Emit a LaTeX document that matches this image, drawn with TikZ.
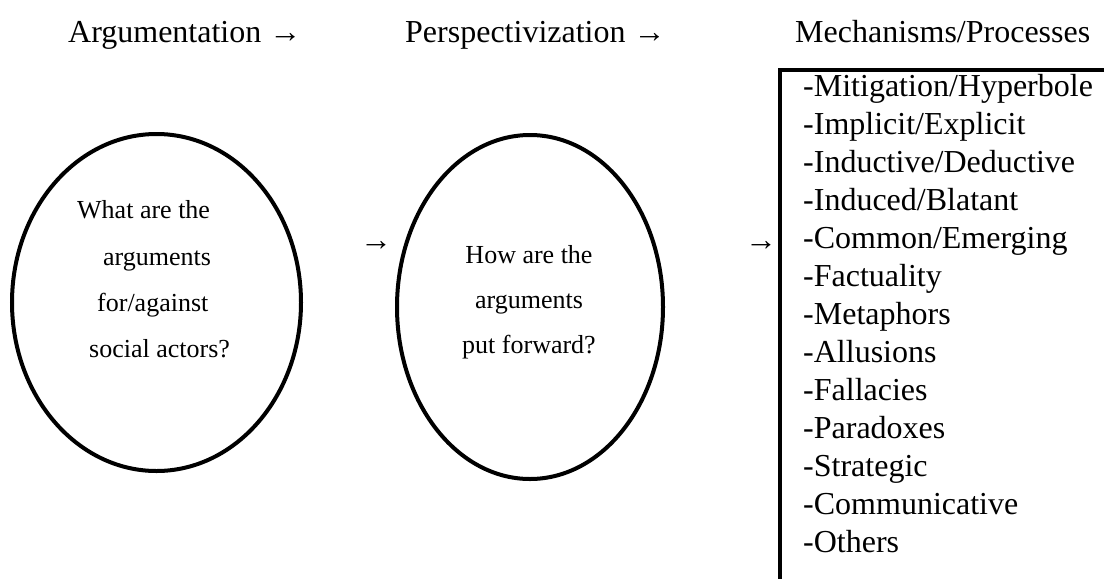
\documentclass[tikz,border=0pt]{standalone}
\usepackage{fontspec}
\setmainfont{Liberation Serif}
\usetikzlibrary{shapes.geometric}
\begin{document}
\begin{tikzpicture}[x=1pt,y=-1pt,
  big/.style={anchor=base west, inner sep=0pt, font=\fontsize{32}{38}\selectfont},
  small/.style={anchor=base west, inner sep=0pt, font=\fontsize{26}{30}\selectfont},
  smallc/.style={small, anchor=base},
  oval/.style={draw, ellipse, line width=4pt, inner sep=0pt}]
\useasboundingbox (0,0) rectangle (1106,579);

% column headings
\node[big] (h1) at (68,42) {Argumentation →};
\node[big] (h2) at (405,42) {Perspectivization →};
\node[big] (h3) at (795,42) {Mechanisms/Processes};

% first question
\node[oval, minimum width=289pt, minimum height=337pt] (q1) at (156.5,302.5) {};
\node[small] (q1a) at (77,218) {What are the};
\node[small] (q1b) at (103,265) {arguments};
\node[small] (q1c) at (97,311) {for/against};
\node[small] (q1d) at (89,357) {social actors?};

\node[big] (ar1) at (360,250) {→};

% second question
\node[oval, minimum width=266pt, minimum height=344pt] (q2) at (530,307) {};
\node[smallc] (q2a) at (529,263) {How are the};
\node[smallc] (q2b) at (529,308) {arguments};
\node[smallc] (q2c) at (529,353) {put forward?};

\node[big] (ar2) at (745,250) {→};

% list of mechanisms
\draw[line width=4pt] (1104,70) -- (780,70) -- (780,579);
\foreach \t [count=\i from 0] in {-Mitigation/Hyperbole, -Implicit/Explicit,
    -Inductive/Deductive, -Induced/Blatant, -Common/Emerging, -Factuality,
    -Metaphors, -Allusions, -Fallacies, -Paradoxes, -Strategic,
    -Communicative, -Others}
  \node[big] (m\i) at (803,96+38*\i) {\t};
\end{tikzpicture}
\end{document}
